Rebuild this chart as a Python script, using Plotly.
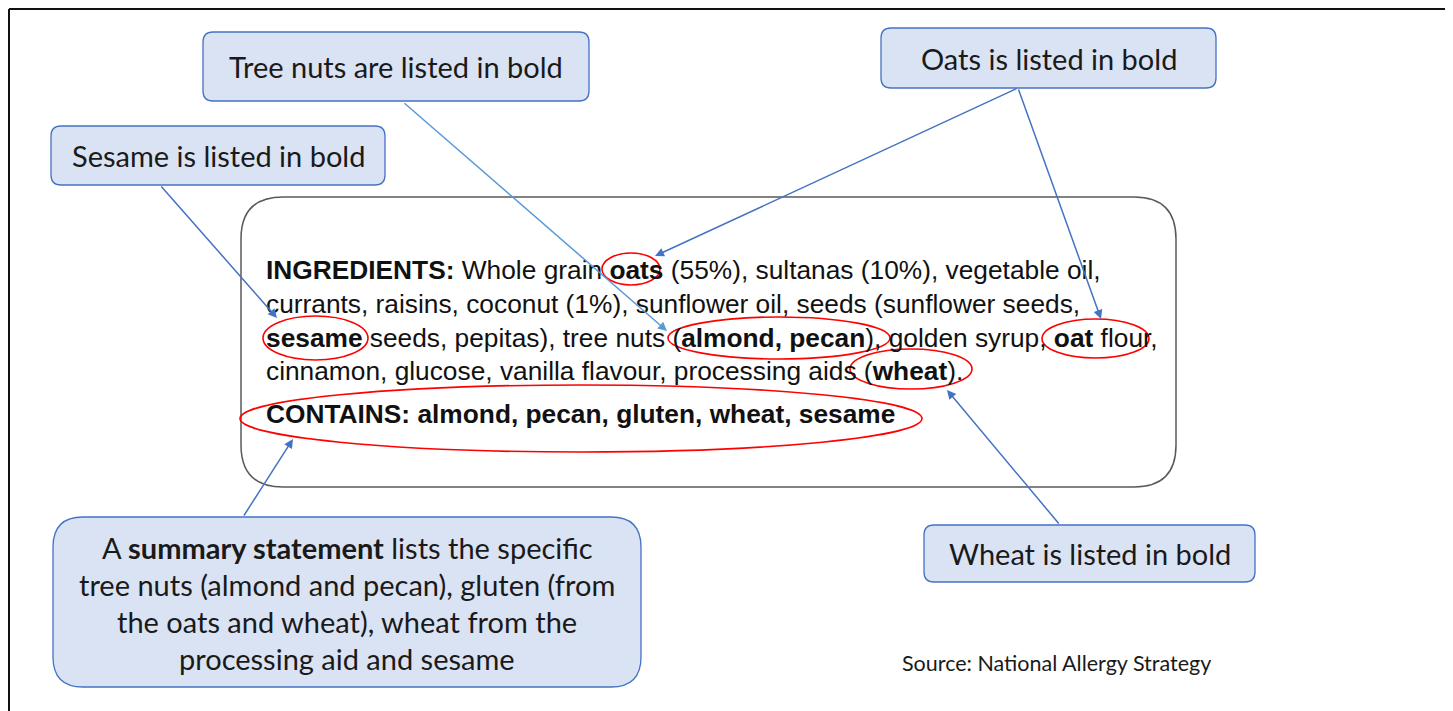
import plotly.graph_objects as go

PAGE_W, PAGE_H = 1453, 711
OFF = 8  # page body margin in the browser
W, H = PAGE_W - OFF, PAGE_H - OFF  # figure fits in the window without scrollbars

# ---- content ----
callout_labels = ["Tree nuts are listed in bold", "Sesame is listed in bold",
                  "Oats is listed in bold", "Wheat is listed in bold"]
callout_boxes = [(203, 32, 589, 101), (51, 126, 385, 185),
                 (881, 28, 1216, 88), (924, 525, 1255, 582)]

summary_lines = ["A <b>summary statement</b> lists the specific",
                 "tree nuts (almond and pecan), gluten (from",
                 "the oats and wheat), wheat from the",
                 "processing aid and sesame"]
summary_box = (53, 517, 641, 687)
summary_line_y = [547, 584, 621, 658]

ingredient_lines = [
    "<b>INGREDIENTS:</b> Whole grain <b>oats</b> (55%), sultanas (10%), vegetable oil,",
    "currants, raisins, coconut (1%), sunflower oil, seeds (sunflower seeds,",
    "<b>sesame</b> seeds, pepitas), tree nuts (<b>almond, pecan</b>), golden syrup, <b>oat</b> flour,",
    "cinnamon, glucose, vanilla flavour, processing aids (<b>wheat</b>).",
    "<b>CONTAINS: almond, pecan, gluten, wheat, sesame</b>",
]
ingredient_line_y = [270, 304, 338, 371, 414]
ingredient_x = 264
label_box = (241, 197, 1176, 487)

highlight_ellipses = [(602, 253, 660, 285), (263, 316, 368, 360),
                      (668, 317, 890, 359), (1042, 319, 1149, 358),
                      (850, 349, 972, 389), (240, 385, 922, 452)]

arrow_start = [(1018, 88), (1018, 88), (403, 102), (160, 185), (243, 517), (1060, 525)]
arrow_end = [(655, 256), (1101, 319), (667, 331), (277, 318), (293, 439), (947, 390)]
arrow_color = ["#4472C4", "#4472C4", "#5B9BD5", "#4472C4", "#4472C4", "#4472C4"]

source_text = "Source: National Allergy Strategy"
frame = (9, 9, 1447, PAGE_H)


def rounded_rect(x0, y0, x1, y1, r):
    return (f"M {x0+r},{y0} L {x1-r},{y0} Q {x1},{y0} {x1},{y0+r} "
            f"L {x1},{y1-r} Q {x1},{y1} {x1-r},{y1} L {x0+r},{y1} "
            f"Q {x0},{y1} {x0},{y1-r} L {x0},{y0+r} Q {x0},{y0} {x0+r},{y0} Z")


fig = go.Figure()
shapes = []
annotations = []

# outer frame (open at the bottom)
fx0, fy0, fx1, fy1 = frame
for seg in [(fx0, fy0, fx1, fy0), (fx0, fy0, fx0, fy1), (fx1, fy0, fx1, fy1)]:
    shapes.append(dict(type="line", x0=seg[0], y0=seg[1], x1=seg[2], y1=seg[3],
                       line=dict(color="#111111", width=2), layer="above"))

# label box
shapes.append(dict(type="path", path=rounded_rect(*label_box, 42),
                   line=dict(color="#595959", width=1.5), fillcolor="rgba(0,0,0,0)"))

CAL_FONT = "Lato, Open Sans, sans-serif"
CAL_SIZE = 29
for lab, (x0, y0, x1, y1) in zip(callout_labels, callout_boxes):
    shapes.append(dict(type="path", path=rounded_rect(x0, y0, x1, y1, 10),
                       line=dict(color="#4472C4", width=1.3), fillcolor="#DAE3F3"))
    annotations.append(dict(x=(x0 + x1) / 2, y=(y0 + y1) / 2, text=lab, showarrow=False,
                            xref="x", yref="y", font=dict(family=CAL_FONT, size=CAL_SIZE, color="#1a1a1a")))

x0, y0, x1, y1 = summary_box
shapes.append(dict(type="path", path=rounded_rect(x0, y0, x1, y1, 30),
                   line=dict(color="#4472C4", width=1.3), fillcolor="#DAE3F3"))
for t, yy in zip(summary_lines, summary_line_y):
    annotations.append(dict(x=(x0 + x1) / 2, y=yy, text=t, showarrow=False, xref="x", yref="y",
                            font=dict(family=CAL_FONT, size=CAL_SIZE, color="#1a1a1a")))

for t, yy in zip(ingredient_lines, ingredient_line_y):
    annotations.append(dict(x=ingredient_x, y=yy, text=t, showarrow=False, xref="x", yref="y",
                            xanchor="left", align="left",
                            font=dict(family="Liberation Sans, Arial, sans-serif", size=26.3, color="#111111")))

for (ex0, ey0, ex1, ey1) in highlight_ellipses:
    shapes.append(dict(type="circle", x0=ex0, y0=ey0, x1=ex1, y1=ey1,
                       line=dict(color="#FF0000", width=1.6), layer="above"))

for (sx, sy), (ex, ey), c in zip(arrow_start, arrow_end, arrow_color):
    annotations.append(dict(x=ex, y=ey, ax=sx, ay=sy, xref="x", yref="y", axref="x", ayref="y",
                            text="", showarrow=True, arrowhead=2, arrowsize=1.2, arrowwidth=1.5,
                            arrowcolor=c))

annotations.append(dict(x=900, y=663, text=source_text, showarrow=False, xref="x", yref="y",
                        xanchor="left", font=dict(family=CAL_FONT, size=21.5, color="#1a1a1a")))

fig.update_layout(
    width=W, height=H, margin=dict(l=0, r=0, t=0, b=0),
    paper_bgcolor="white", plot_bgcolor="white",
    xaxis=dict(range=[OFF, W + OFF], visible=False, fixedrange=True),
    yaxis=dict(range=[H + OFF, OFF], visible=False, fixedrange=True),
    shapes=shapes, annotations=annotations, showlegend=False,
)

fig.write_html("out.html")
